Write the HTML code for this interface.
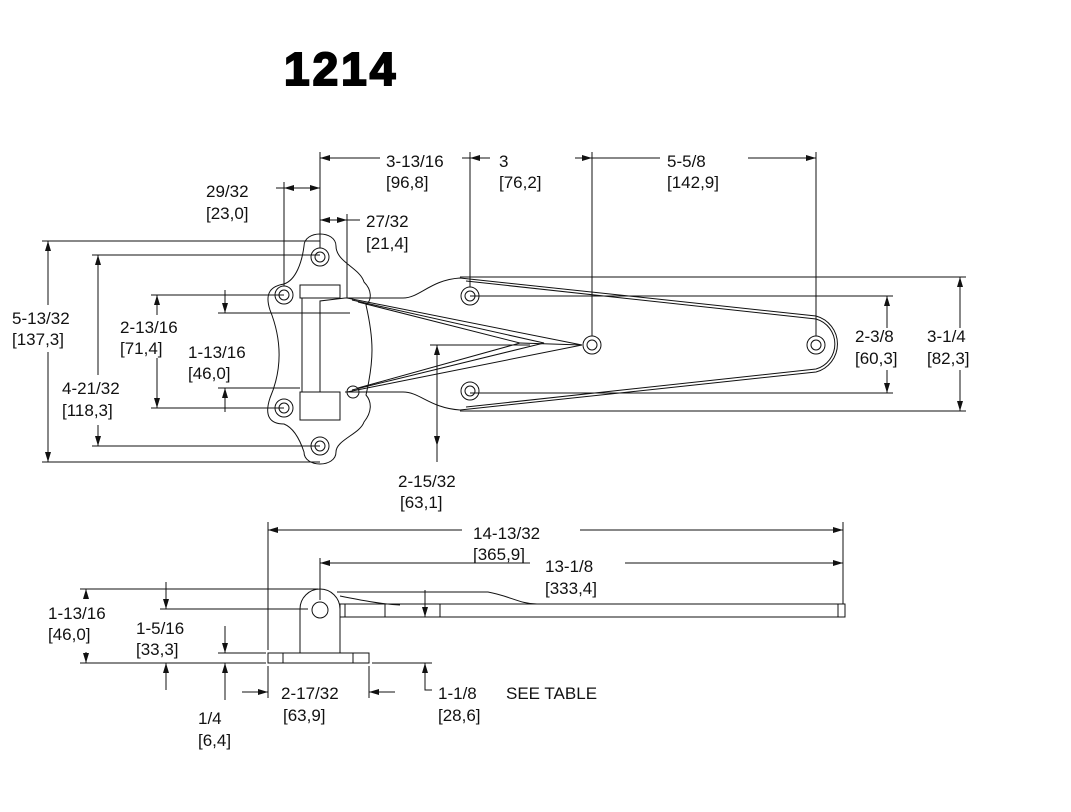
<!DOCTYPE html>
<html><head><meta charset="utf-8"><style>
html,body{margin:0;padding:0;background:#fff;}
svg{display:block;}
text{font-family:"Liberation Sans",Arial,sans-serif;font-size:17px;fill:#111;}
</style></head><body>
<svg width="1071" height="812" viewBox="0 0 1071 812" xmlns="http://www.w3.org/2000/svg">
<defs>
<marker id="a" viewBox="0 0 10 6" refX="10" refY="3" markerWidth="10" markerHeight="6" orient="auto-start-reverse" markerUnits="userSpaceOnUse"><path d="M0,0 L10,3 L0,6 z" fill="#111"/></marker>
</defs>
<text x="284" y="85" style="font-size:46px;font-weight:bold;letter-spacing:3px;stroke:#000;stroke-width:2px;fill:#000">1214</text>
<g fill="none" stroke="#111" stroke-width="1">
<path d="M304,246 C304,230 336,230 336,246 C336,262 360,268 364,282 C372,290 372,300 366,305 C374,340 374,360 366,395 C372,402 372,412 364,422 C360,434 336,440 336,452 C336,468 304,468 304,452 C300,440 294,428 284,424 C270,424 264,416 270,398 C282,370 282,340 270,310 C264,292 272,286 284,284 C296,280 302,262 304,246 z"/>
<circle cx="320" cy="257" r="9"/><circle cx="320" cy="257" r="5"/>
<circle cx="284" cy="295" r="9"/><circle cx="284" cy="295" r="5"/>
<circle cx="284" cy="408" r="9"/><circle cx="284" cy="408" r="5"/>
<circle cx="320" cy="446" r="9"/><circle cx="320" cy="446" r="5"/>
<circle cx="353" cy="392" r="6"/>
<rect x="300" y="285" width="40" height="13"/>
<rect x="300" y="392" width="40" height="28"/>
<line x1="302" y1="298" x2="302" y2="392"/>
<path d="M336,392 L320,392 L320,301 L345,298"/>
<path d="M345,298 L403,298 C420,298 430,280 460,278 L816,316 A29,29 0 0 1 816,372 L460,410 C430,408 420,392 403,392 L345,392"/>
<path d="M466,281 L816,319 A26,26 0 0 1 816,369 L466,407"/>
<path d="M347,298 L582,345 L347,392"/>
<path d="M352,300 L544,343 L352,390"/>
<path d="M358,302 L520,343 L358,388"/>
<line x1="520" y1="343" x2="582" y2="345"/>
<circle cx="470" cy="296" r="9"/><circle cx="470" cy="296" r="5"/>
<circle cx="470" cy="391" r="9"/><circle cx="470" cy="391" r="5"/>
<circle cx="592" cy="345" r="9"/><circle cx="592" cy="345" r="5"/>
<circle cx="816" cy="345" r="9"/><circle cx="816" cy="345" r="5"/>
<line x1="320" y1="152" x2="320" y2="248"/>
<line x1="470" y1="152" x2="470" y2="287"/>
<line x1="592" y1="152" x2="592" y2="336"/>
<line x1="816" y1="152" x2="816" y2="336"/>
<line x1="284" y1="182" x2="284" y2="286"/>
<line x1="347" y1="214" x2="347" y2="298"/>
<line x1="320" y1="158" x2="380" y2="158" marker-start="url(#a)"/>
<line x1="462" y1="158" x2="470" y2="158"/>
<line x1="490" y1="158" x2="470" y2="158" marker-end="url(#a)"/>
<line x1="575" y1="158" x2="592" y2="158" marker-end="url(#a)"/>
<line x1="592" y1="158" x2="660" y2="158"/>
<line x1="748" y1="158" x2="816" y2="158" marker-end="url(#a)"/>
<line x1="276" y1="188" x2="284" y2="188"/>
<line x1="284" y1="188" x2="320" y2="188" marker-start="url(#a)" marker-end="url(#a)"/>
<line x1="320" y1="220" x2="347" y2="220" marker-start="url(#a)" marker-end="url(#a)"/>
<line x1="347" y1="220" x2="360" y2="220"/>
<line x1="42" y1="241" x2="320" y2="241"/>
<line x1="42" y1="462" x2="320" y2="462"/>
<line x1="48" y1="241" x2="48" y2="305" marker-start="url(#a)"/>
<line x1="48" y1="352" x2="48" y2="462" marker-end="url(#a)"/>
<line x1="92" y1="255" x2="320" y2="255"/>
<line x1="92" y1="446" x2="320" y2="446"/>
<line x1="98" y1="255" x2="98" y2="375" marker-start="url(#a)"/>
<line x1="98" y1="425" x2="98" y2="446" marker-end="url(#a)"/>
<line x1="151" y1="295" x2="284" y2="295"/>
<line x1="151" y1="408" x2="284" y2="408"/>
<line x1="157" y1="295" x2="157" y2="315" marker-start="url(#a)"/>
<line x1="157" y1="358" x2="157" y2="408" marker-end="url(#a)"/>
<line x1="218" y1="313" x2="350" y2="313"/>
<line x1="218" y1="388" x2="300" y2="388"/>
<line x1="225" y1="290" x2="225" y2="313" marker-end="url(#a)"/>
<line x1="225" y1="412" x2="225" y2="388" marker-end="url(#a)"/>
<line x1="430" y1="345" x2="530" y2="345"/>
<line x1="437" y1="345" x2="437" y2="446" marker-start="url(#a)" marker-end="url(#a)"/>
<line x1="437" y1="446" x2="437" y2="462"/>
<line x1="470" y1="296" x2="893" y2="296"/>
<line x1="470" y1="393" x2="893" y2="393"/>
<line x1="887" y1="296" x2="887" y2="328" marker-start="url(#a)"/>
<line x1="887" y1="370" x2="887" y2="393" marker-end="url(#a)"/>
<line x1="460" y1="277" x2="966" y2="277"/>
<line x1="460" y1="411" x2="966" y2="411"/>
<line x1="960" y1="277" x2="960" y2="328" marker-start="url(#a)"/>
<line x1="960" y1="370" x2="960" y2="411" marker-end="url(#a)"/>
<rect x="268" y="653" width="101" height="10"/>
<line x1="283" y1="653" x2="283" y2="663"/><line x1="353" y1="653" x2="353" y2="663"/>
<path d="M300,653 L300,609 A20,20 0 0 1 340,609 L340,653"/>
<circle cx="320" cy="610" r="8"/>
<path d="M337,592 L488,592 C510,596 520,604 537,604"/>
<path d="M340,596 C360,600 380,604 400,605"/>
<rect x="340" y="604" width="505" height="13"/>
<line x1="345" y1="604" x2="345" y2="617"/><line x1="385" y1="604" x2="385" y2="617"/><line x1="440" y1="604" x2="440" y2="617"/><line x1="838" y1="604" x2="838" y2="617"/>
<line x1="268" y1="522" x2="268" y2="650"/><line x1="268" y1="666" x2="268" y2="698"/>
<line x1="843" y1="522" x2="843" y2="604"/>
<line x1="268" y1="530" x2="462" y2="530" marker-start="url(#a)"/>
<line x1="580" y1="530" x2="843" y2="530" marker-end="url(#a)"/>
<line x1="320" y1="558" x2="320" y2="600"/>
<line x1="320" y1="563" x2="530" y2="563" marker-start="url(#a)"/>
<line x1="625" y1="563" x2="843" y2="563" marker-end="url(#a)"/>
<line x1="80" y1="589" x2="318" y2="589"/>
<line x1="80" y1="663" x2="266" y2="663"/><line x1="372" y1="663" x2="432" y2="663"/>
<line x1="86" y1="598" x2="86" y2="589" marker-end="url(#a)"/>
<line x1="86" y1="652" x2="86" y2="663" marker-end="url(#a)"/>
<line x1="160" y1="609" x2="308" y2="609"/>
<line x1="166" y1="582" x2="166" y2="609" marker-end="url(#a)"/>
<line x1="166" y1="690" x2="166" y2="663" marker-end="url(#a)"/>
<line x1="218" y1="653" x2="266" y2="653"/>
<line x1="225" y1="626" x2="225" y2="653" marker-end="url(#a)"/>
<line x1="225" y1="700" x2="225" y2="663" marker-end="url(#a)"/>
<line x1="369" y1="666" x2="369" y2="698"/>
<line x1="242" y1="692" x2="268" y2="692" marker-end="url(#a)"/>
<line x1="395" y1="692" x2="369" y2="692" marker-end="url(#a)"/>
<path d="M432,690 L425,690 L425,663" marker-end="url(#a)"/>
<line x1="425" y1="590" x2="425" y2="617" marker-end="url(#a)"/>
</g>
<text x="386" y="167">3-13/16</text><text x="386" y="188">[96,8]</text>
<text x="499" y="167">3</text><text x="499" y="188">[76,2]</text>
<text x="667" y="167">5-5/8</text><text x="667" y="188">[142,9]</text>
<text x="206" y="197">29/32</text><text x="206" y="219">[23,0]</text>
<text x="366" y="227">27/32</text><text x="366" y="249">[21,4]</text>
<text x="12" y="324">5-13/32</text><text x="12" y="345">[137,3]</text>
<text x="62" y="394">4-21/32</text><text x="62" y="416">[118,3]</text>
<text x="120" y="333">2-13/16</text><text x="120" y="354">[71,4]</text>
<text x="188" y="358">1-13/16</text><text x="188" y="379">[46,0]</text>
<text x="398" y="487">2-15/32</text><text x="400" y="508">[63,1]</text>
<text x="855" y="342">2-3/8</text><text x="855" y="364">[60,3]</text>
<text x="927" y="342">3-1/4</text><text x="927" y="364">[82,3]</text>
<text x="473" y="539">14-13/32</text><text x="473" y="560">[365,9]</text>
<text x="545" y="572">13-1/8</text><text x="545" y="594">[333,4]</text>
<text x="48" y="619">1-13/16</text><text x="48" y="640">[46,0]</text>
<text x="136" y="634">1-5/16</text><text x="136" y="655">[33,3]</text>
<text x="198" y="724">1/4</text><text x="198" y="746">[6,4]</text>
<text x="281" y="699">2-17/32</text><text x="283" y="721">[63,9]</text>
<text x="438" y="699">1-1/8</text><text x="438" y="721">[28,6]</text>
<text x="506" y="699">SEE TABLE</text>
</svg>
</body></html>
